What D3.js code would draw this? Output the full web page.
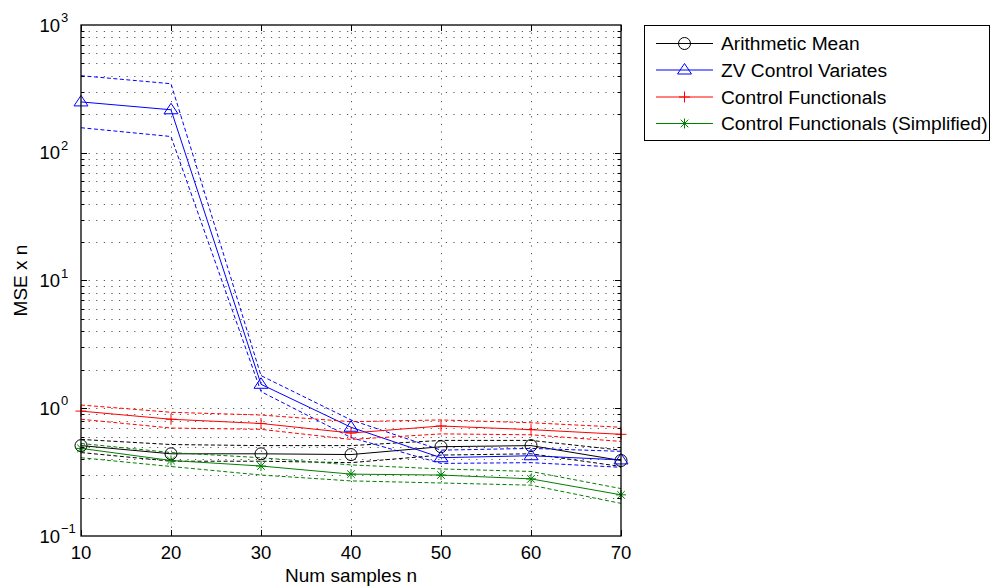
<!DOCTYPE html>
<html><head><meta charset="utf-8">
<script src="https://cdn.jsdelivr.net/npm/d3@7"></script>
<style>
body{margin:0;background:#fff;}
svg{display:block;font-family:"Liberation Sans",Arial,Helvetica,sans-serif;}
</style></head>
<body>
<svg id="chart" width="992" height="588"></svg>
<script>
// ---- data ----
const ns = [10, 20, 30, 40, 50, 60, 70];
const xTicks = [10, 20, 30, 40, 50, 60, 70];
const yTickExps = [-1, 0, 1, 2, 3];

const amMean = [0.51, 0.44, 0.44, 0.434, 0.50, 0.51, 0.39];
const amHi   = [0.57, 0.52, 0.51, 0.51, 0.56, 0.56, 0.47];
const amLo   = [0.45, 0.385, 0.385, 0.375, 0.43, 0.44, 0.35];

const zvMean = [250, 217, 1.54, 0.71, 0.41, 0.425, 0.394];
const zvHi   = [401, 347, 1.80, 0.81, 0.47, 0.485, 0.46];
const zvLo   = [157, 134, 1.35, 0.59, 0.37, 0.375, 0.345];

const cfMean = [0.95, 0.82, 0.76, 0.64, 0.726, 0.68, 0.625];
const cfHi   = [1.06, 0.93, 0.885, 0.785, 0.81, 0.77, 0.71];
const cfLo   = [0.82, 0.70, 0.684, 0.57, 0.63, 0.62, 0.55];

const cfsMean = [0.485, 0.39, 0.353, 0.305, 0.30, 0.28, 0.21];
const cfsHi   = [0.53, 0.45, 0.41, 0.36, 0.335, 0.32, 0.235];
const cfsLo   = [0.41, 0.35, 0.30, 0.27, 0.26, 0.25, 0.18];

const seriesNames = ["Arithmetic Mean", "ZV Control Variates", "Control Functionals", "Control Functionals (Simplified)"];
const seriesColors = ["#000000", "#0000ff", "#ff0000", "#008000"];
const seriesMarkers = ["circle", "triangle", "plus", "star"];

const xLabel = "Num samples n";
const yLabel = "MSE x n";

// ---- layout ----
const L = 81, R = 621, T = 25, B = 536;
const svg = d3.select("#chart");
const x = d3.scaleLinear().domain([10, 70]).range([L, R]);
const y = d3.scaleLog().domain([0.1, 1000]).range([B, T]);

const series = [
  {mean: amMean, hi: amHi, lo: amLo},
  {mean: zvMean, hi: zvHi, lo: zvLo},
  {mean: cfMean, hi: cfHi, lo: cfLo},
  {mean: cfsMean, hi: cfsHi, lo: cfsLo}
];

// grid
const grid = svg.append("g").attr("stroke", "#555").attr("stroke-width", 1)
  .attr("stroke-dasharray", "1.2,6.4").attr("fill", "none");
const yGridVals = [];
for (let e = -1; e < 3; e++) for (let m = 1; m <= 9; m++) yGridVals.push(m * Math.pow(10, e));
yGridVals.push(1000);
yGridVals.forEach(v => {
  if (v <= 0.1 || v >= 1000) return;
  grid.append("line").attr("x1", L).attr("x2", R).attr("y1", Math.round(y(v)) + 0.5).attr("y2", Math.round(y(v)) + 0.5);
});
xTicks.forEach(v => {
  if (v === 10 || v === 70) return;
  grid.append("line").attr("x1", Math.round(x(v)) + 0.5).attr("x2", Math.round(x(v)) + 0.5).attr("y1", T).attr("y2", B);
});

// lines
const line = d3.line().x((d, i) => x(ns[i])).y(d => y(d));
series.forEach((s, k) => {
  const c = seriesColors[k];
  [s.hi, s.lo].forEach(arr => {
    svg.append("path").attr("d", line(arr)).attr("fill", "none").attr("stroke", c)
      .attr("stroke-width", 1).attr("stroke-dasharray", "4,2.5");
  });
  svg.append("path").attr("d", line(s.mean)).attr("fill", "none").attr("stroke", c).attr("stroke-width", 1);
});

function drawMarker(g, type, cx, cy, c) {
  if (type === "circle") {
    g.append("circle").attr("cx", cx).attr("cy", cy).attr("r", 6).attr("fill", "none").attr("stroke", c).attr("stroke-width", 1);
  } else if (type === "triangle") {
    g.append("path").attr("d", `M${cx},${cy - 6.5}L${cx + 7},${cy + 4}L${cx - 7},${cy + 4}Z`)
      .attr("fill", "none").attr("stroke", c).attr("stroke-width", 1);
  } else if (type === "plus") {
    g.append("path").attr("d", `M${cx - 5.5},${cy}H${cx + 5.5}M${cx},${cy - 5.5}V${cy + 5.5}`)
      .attr("fill", "none").attr("stroke", c).attr("stroke-width", 1);
  } else if (type === "star") {
    const a = 5, b = 3.8;
    g.append("path").attr("d", `M${cx - a},${cy}H${cx + a}M${cx},${cy - a}V${cy + a}M${cx - b},${cy - b}L${cx + b},${cy + b}M${cx - b},${cy + b}L${cx + b},${cy - b}`)
      .attr("fill", "none").attr("stroke", c).attr("stroke-width", 1);
  }
}
series.forEach((s, k) => {
  const g = svg.append("g");
  s.mean.forEach((v, i) => drawMarker(g, seriesMarkers[k], x(ns[i]), y(v), seriesColors[k]));
});

// axes box and ticks
const ax = svg.append("g").attr("stroke", "#000").attr("fill", "none");
ax.append("rect").attr("x", L).attr("y", T).attr("width", R - L).attr("height", B - T).attr("stroke-width", 1.3);
yGridVals.forEach(v => {
  if (v <= 0.1 || v >= 1000) return;
  const major = Math.abs(Math.log10(v) - Math.round(Math.log10(v))) < 1e-9;
  const len = major ? 6 : 3.5;
  const yy = Math.round(y(v)) + 0.5;
  ax.append("line").attr("x1", L).attr("x2", L + len).attr("y1", yy).attr("y2", yy);
  ax.append("line").attr("x1", R).attr("x2", R - len).attr("y1", yy).attr("y2", yy);
});
xTicks.forEach(v => {
  const xx = Math.round(x(v)) + 0.5;
  ax.append("line").attr("x1", xx).attr("x2", xx).attr("y1", B).attr("y2", B - 6);
  ax.append("line").attr("x1", xx).attr("x2", xx).attr("y1", T).attr("y2", T + 6);
});

// tick labels
const tl = svg.append("g").attr("fill", "#000");
xTicks.forEach(v => {
  tl.append("text").attr("x", x(v)).attr("y", 559).attr("text-anchor", "middle")
    .attr("font-size", 18.5).text(v);
});
yTickExps.forEach(e => {
  const yy = y(Math.pow(10, e));
  tl.append("text").attr("x", 60).attr("y", yy + 6.5).attr("text-anchor", "end").attr("font-size", 18.5).text("10");
  tl.append("text").attr("x", 61).attr("y", yy - 3).attr("text-anchor", "start").attr("font-size", 13)
    .text(e < 0 ? "\u2212" + Math.abs(e) : String(e));
});

// axis labels
svg.append("text").attr("x", (L + R) / 2).attr("y", 581.5).attr("text-anchor", "middle")
  .attr("font-size", 19).text(xLabel);
svg.append("text").attr("transform", `translate(27,${(T + B) / 2}) rotate(-90)`).attr("text-anchor", "middle")
  .attr("font-size", 19).text(yLabel);

// legend
const lg = svg.append("g");
lg.append("rect").attr("x", 644.5).attr("y", 25.5).attr("width", 345).attr("height", 115)
  .attr("fill", "#fff").attr("stroke", "#000").attr("stroke-width", 1);
const rowY = [43.5, 70, 97, 123.5];
seriesNames.forEach((name, k) => {
  const yy = rowY[k];
  lg.append("line").attr("x1", 656).attr("x2", 713).attr("y1", yy).attr("y2", yy)
    .attr("stroke", seriesColors[k]).attr("stroke-width", 1);
  drawMarker(lg, seriesMarkers[k], 684.5, yy, seriesColors[k]);
  lg.append("text").attr("x", 721).attr("y", yy + 6.5).attr("font-size", 19.2).attr("fill", "#000").text(name);
});
</script>
</body></html>
